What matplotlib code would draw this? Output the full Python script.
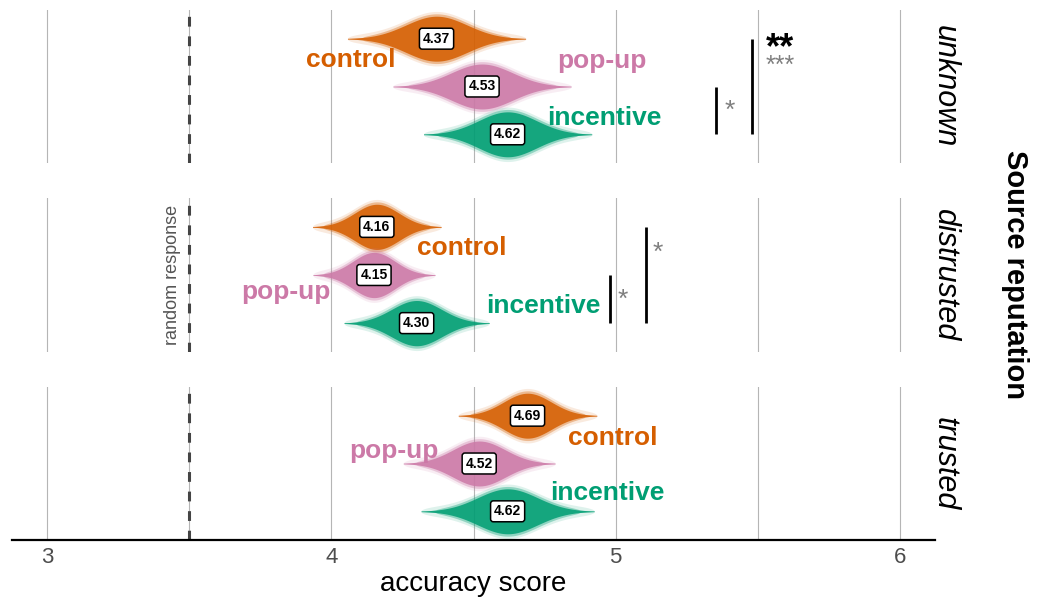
import numpy as np
import matplotlib.pyplot as plt

plt.rcParams['font.family'] = ['Liberation Sans', 'DejaVu Sans']

reputations = ['unknown', 'distrusted', 'trusted']
groups = ['control', 'pop-up', 'incentive']
colors = ['#D55E00', '#CC79A7', '#009E73']

# mean accuracy score per group (control, pop-up, incentive)
means_unknown = [4.37, 4.53, 4.62]
means_distrusted = [4.16, 4.15, 4.30]
means_trusted = [4.69, 4.52, 4.62]

# spread of the posterior draws
sd_unknown = [0.108, 0.108, 0.102]
sd_distrusted = [0.078, 0.074, 0.088]
sd_trusted = [0.084, 0.092, 0.105]

# where the group names sit (x, row level of baseline)
labx_unknown = [4.07, 4.95, 4.96]
laby_unknown = [1.59, 1.61, 2.81]
labx_distrusted = [4.46, 3.84, 4.745]
laby_distrusted = [1.59, 2.49, 2.785]
labx_trusted = [4.99, 4.22, 4.97]
laby_trusted = [1.61, 1.885, 2.76]

# significance brackets: x position, first row, last row
bars_unknown = [(5.353, 2, 3), (5.479, 1, 3)]
bars_distrusted = [(4.98, 2, 3), (5.107, 1, 3)]
bars_trusted = []

# stars: x, baseline level, text, size, colour, weight
stars_unknown = [(5.402, 2.66, '*', 19, '#7f7f7f', 'normal'),
                 (5.578, 1.40, '**', 26, 'black', 'bold'),
                 (5.578, 1.72, '***', 18, '#7f7f7f', 'normal')]
stars_distrusted = [(5.026, 2.66, '*', 19, '#7f7f7f', 'normal'),
                    (5.149, 1.68, '*', 19, '#7f7f7f', 'normal')]
stars_trusted = []

means = [means_unknown, means_distrusted, means_trusted]
sds = [sd_unknown, sd_distrusted, sd_trusted]
labx = [labx_unknown, labx_distrusted, labx_trusted]
laby = [laby_unknown, laby_distrusted, laby_trusted]
bars = [bars_unknown, bars_distrusted, bars_trusted]
stars = [stars_unknown, stars_distrusted, stars_trusted]

W, H = 1045, 597
panels_px = [(10, 163), (198, 352), (387, 540)]


def draw_swarm(ax, m, sd, y, color):
    # lens shaped cloud of draws, faint at the tails
    zmax = 2.9
    xs = np.linspace(m - zmax * sd, m + zmax * sd, 400)
    z = (xs - m) / sd
    core = 0.47 * np.exp(-0.5 * z ** 2)
    ends = np.sqrt(np.clip(1 - (z / zmax) ** 6, 0, 1))
    mid = np.sqrt(np.clip(1 - (z / 2.4) ** 4, 0, 1))
    ax.fill_between(xs, y - core - 0.1 * ends, y + core + 0.1 * ends,
                    color=color, alpha=0.13, lw=0, zorder=2)
    ax.fill_between(xs, y - core - 0.05 * mid, y + core + 0.05 * mid,
                    color=color, alpha=0.35, lw=0, zorder=2)
    ax.fill_between(xs, y - core, y + core, color=color, alpha=0.85, lw=0, zorder=2)


fig = plt.figure(figsize=(W / 100, H / 100), dpi=100)
axes = []
for i, (top, bot) in enumerate(panels_px):
    ax = fig.add_axes([12 / W, 1 - bot / H, (935 - 12) / W, (bot - top) / H])
    axes.append(ax)
    ax.set_xlim(2.877, 6.123)
    ax.set_ylim(3.6, 0.4)
    ax.set_xticks([3, 4, 5, 6])
    ax.set_xticks([3.5, 4.5, 5.5], minor=True)
    ax.grid(True, which='both', axis='x', color='#b5b5b5', lw=0.8, zorder=0)
    ax.set_yticks([])
    ax.tick_params(which='both', length=0)
    for s in ['top', 'left', 'right']:
        ax.spines[s].set_visible(False)
    if i < 2:
        ax.spines['bottom'].set_visible(False)
        ax.set_xticklabels([])
    else:
        ax.spines['bottom'].set_linewidth(1.6)
        ax.spines['bottom'].set_color('black')
        ax.tick_params(axis='x', labelsize=16, labelcolor='#4d4d4d', pad=5)
        ax.set_xlabel('accuracy score', fontsize=20, labelpad=2)
    ax.set_axisbelow(True)
    ax.axvline(3.5, color='#444444', lw=2.2, ls=(0, (3.2, 3.2)), zorder=1)

    for j, g in enumerate(groups):
        lvl = j + 1
        m = means[i][j]
        draw_swarm(ax, m, sds[i][j], lvl, colors[j])
        ax.text(m, lvl, f'{m:.2f}', ha='center', va='center', fontsize=10, fontweight='bold',
                zorder=6, bbox=dict(boxstyle='round,pad=0.25,rounding_size=0.2',
                                    fc='white', ec='black', lw=1.1))
        ax.text(labx[i][j], laby[i][j], g, ha='center', va='baseline', fontsize=19,
                fontweight='bold', color=colors[j], zorder=7)

    for x, a, b in bars[i]:
        ax.plot([x, x], [a, b], color='black', lw=2, solid_capstyle='butt', zorder=4)
    for x, y, t, fs, c, fw in stars[i]:
        ax.text(x, y, t, ha='center', va='baseline', fontsize=fs, color=c, fontweight=fw, zorder=4)

    fig.text(945 / W, 1 - (top + bot) / 2 / H, reputations[i], rotation=-90, style='italic',
             fontsize=22, ha='center', va='center')

axes[1].text(3.44, 2.0, 'random response', rotation=90, ha='center', va='center',
             fontsize=13, color='#555555')
fig.text(1015 / W, 1 - 274 / H, 'Source reputation', rotation=-90, fontweight='bold',
         fontsize=21, ha='center', va='center')

fig.savefig('out.png', dpi=100)
